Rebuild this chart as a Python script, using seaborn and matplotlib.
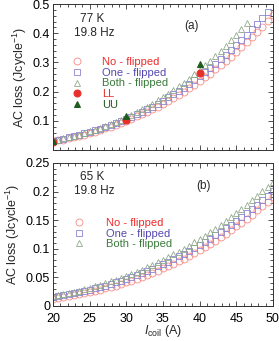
import numpy as np
import pandas as pd
import matplotlib
matplotlib.use('Agg')
import matplotlib.pyplot as plt
from matplotlib.ticker import MultipleLocator
import seaborn as sns

# coil current (A)
current = [20.0, 20.71, 21.43, 22.14, 22.86, 23.57, 24.29, 25.0, 25.71, 26.43,
           27.14, 27.86, 28.57, 29.29, 30.0, 30.71, 31.43, 32.14, 32.86, 33.57,
           34.29, 35.0, 35.71, 36.43, 37.14, 37.86, 38.57, 39.29, 40.0, 40.71,
           41.43, 42.14, 42.86, 43.57, 44.29, 45.0, 45.71, 46.43, 47.14, 47.86,
           48.57, 49.29, 50.0]

# 77 K, 19.8 Hz
no_flip_77 = [0.030, 0.033, 0.036, 0.040, 0.044, 0.048, 0.053, 0.058, 0.063, 0.068,
              0.074, 0.080, 0.086, 0.093, 0.100, 0.107, 0.115, 0.123, 0.131, 0.140,
              0.149, 0.158, 0.168, 0.178, 0.189, 0.200, 0.212, 0.224, 0.236, 0.249,
              0.262, 0.276, 0.290, 0.305, 0.320, 0.336, 0.352, 0.369, 0.386, 0.404,
              0.423, 0.442, 0.461]
one_flip_77 = [0.032, 0.035, 0.039, 0.043, 0.047, 0.052, 0.057, 0.062, 0.067, 0.073,
               0.079, 0.085, 0.092, 0.099, 0.107, 0.114, 0.123, 0.131, 0.140, 0.149,
               0.159, 0.169, 0.180, 0.191, 0.202, 0.214, 0.227, 0.239, 0.253, 0.267,
               0.281, 0.296, 0.311, 0.327, 0.343, 0.360, 0.377, 0.395, 0.414, 0.433,
               0.453, 0.473]
both_flip_77 = [0.032, 0.036, 0.040, 0.044, 0.048, 0.053, 0.058, 0.064, 0.070, 0.076,
                0.083, 0.089, 0.097, 0.104, 0.113, 0.121, 0.130, 0.139, 0.149, 0.159,
                0.170, 0.181, 0.193, 0.205, 0.218, 0.231, 0.245, 0.260, 0.274, 0.290,
                0.306, 0.323, 0.340, 0.358, 0.376, 0.395, 0.415, 0.436]
stack_current = [20, 30, 40]
ll_77 = [0.029, 0.103, 0.264]
uu_77 = [0.031, 0.116, 0.296]

# 65 K, 19.8 Hz
no_flip_65 = [0.0122, 0.0136, 0.0150, 0.0166, 0.0182, 0.0200, 0.0218, 0.0238, 0.0259, 0.0281,
              0.0305, 0.0330, 0.0356, 0.0383, 0.0412, 0.0442, 0.0473, 0.0506, 0.0541, 0.0577,
              0.0615, 0.0654, 0.0695, 0.0737, 0.0781, 0.0827, 0.0875, 0.0925, 0.0976, 0.1029,
              0.1084, 0.1141, 0.1200, 0.1261, 0.1325, 0.1390, 0.1457, 0.1526, 0.1598, 0.1672,
              0.1748, 0.1826, 0.1906]
one_flip_65 = [0.0150, 0.0166, 0.0182, 0.0200, 0.0219, 0.0239, 0.0260, 0.0282, 0.0305, 0.0330,
               0.0356, 0.0383, 0.0412, 0.0441, 0.0473, 0.0505, 0.0539, 0.0574, 0.0611, 0.0650,
               0.0690, 0.0731, 0.0774, 0.0819, 0.0865, 0.0913, 0.0962, 0.1013, 0.1067, 0.1121,
               0.1178, 0.1236, 0.1296, 0.1358, 0.1423, 0.1488, 0.1556, 0.1626, 0.1698, 0.1772,
               0.1848, 0.1926, 0.2006]
both_flip_65 = [0.0170, 0.0187, 0.0206, 0.0226, 0.0246, 0.0268, 0.0292, 0.0316, 0.0342, 0.0369,
                0.0397, 0.0427, 0.0458, 0.0491, 0.0525, 0.0560, 0.0597, 0.0636, 0.0676, 0.0717,
                0.0761, 0.0806, 0.0852, 0.0900, 0.0950, 0.1002, 0.1055, 0.1111, 0.1168, 0.1226,
                0.1287, 0.1350, 0.1414, 0.1481, 0.1549, 0.1620, 0.1693, 0.1767, 0.1844, 0.1923,
                0.2003, 0.2086, 0.2172]

sns.set_style('ticks')
plt.rcParams['font.family'] = ['Liberation Sans', 'DejaVu Sans']
plt.rcParams['mathtext.fontset'] = 'custom'
plt.rcParams['mathtext.rm'] = 'Liberation Sans'
plt.rcParams['mathtext.it'] = 'Liberation Sans:italic'

c_no, c_one, c_both = '#f58a84', '#8c85d2', '#92aa8c'
t_no, t_one, t_both = '#f02a2a', '#5448b0', '#3a7a3a'
c_ll, c_uu = '#e8302a', '#1f5c1f'

fig = plt.figure(figsize=(2.79, 3.41), dpi=100)
ax1 = fig.add_axes([0.190, 0.560, 0.788, 0.428])
ax2 = fig.add_axes([0.190, 0.103, 0.788, 0.419])


def open_series(ax, x, y, color, marker, label):
    sns.lineplot(x=x, y=y, ax=ax, color=color, marker=marker, linestyle='',
                 mfc='none', mec=color, ms=5, mew=0.6, label=label, legend=False)


open_series(ax1, current, no_flip_77, c_no, 'o', 'No - flipped')
open_series(ax1, current[:len(one_flip_77)], one_flip_77, c_one, 's', 'One - flipped')
open_series(ax1, current[:len(both_flip_77)], both_flip_77, c_both, '^', 'Both - flipped')
sns.lineplot(x=stack_current, y=ll_77, ax=ax1, color=c_ll, marker='o', linestyle='',
             mec=c_ll, ms=5, label='LL', legend=False)
sns.lineplot(x=stack_current, y=uu_77, ax=ax1, color=c_uu, marker='^', linestyle='',
             mec=c_uu, ms=5, label='UU', legend=False)

open_series(ax2, current, no_flip_65, c_no, 'o', 'No - flipped')
open_series(ax2, current, one_flip_65, c_one, 's', 'One - flipped')
open_series(ax2, current, both_flip_65, c_both, '^', 'Both - flipped')

for ax in (ax1, ax2):
    ax.set_xlim(20, 50)
    ax.xaxis.set_major_locator(MultipleLocator(5))
    ax.xaxis.set_minor_locator(MultipleLocator(1))
    ax.tick_params(which='both', direction='in', top=True, right=True,
                   labelsize=9, colors='#333333', labelcolor='black', width=0.6)
    ax.tick_params(which='major', length=3.5, pad=2)
    ax.tick_params(which='minor', length=2)
    ax.tick_params(axis='x', which='major', pad=5)
    for s in ax.spines.values():
        s.set_linewidth(0.7)
        s.set_color('#333333')
    ax.set_ylabel('AC loss (Jcycle$^{-1}$)', fontsize=9, labelpad=3)

ax1.set_ylim(0, 0.5)
ax1.set_yticks([0.1, 0.2, 0.3, 0.4, 0.5])
ax1.set_yticklabels(['0.1', '0.2', '0.3', '0.4', '0.5'])
ax1.yaxis.set_minor_locator(MultipleLocator(0.02))
ax1.tick_params(labelbottom=False)
ax1.set_xlabel('')

ax2.set_ylim(0, 0.25)
ax2.set_yticks([0, 0.05, 0.1, 0.15, 0.2, 0.25])
ax2.set_yticklabels(['0', '0.05', '0.1', '0.15', '0.2', '0.25'])
ax2.yaxis.set_minor_locator(MultipleLocator(0.01))
ax2.set_xticks([20, 25, 30, 35, 40, 45, 50])
ax2.set_xticklabels(['20', '25', '30', '35', '40', '45', '50'])
ax2.set_xlabel('$I_{\\rm coil}$ (A)', fontsize=9, labelpad=-1)

ax1.text(0.18, 0.90, '77 K', transform=ax1.transAxes, fontsize=8.5, ha='center', va='center')
ax1.text(0.186, 0.80, '19.8 Hz', transform=ax1.transAxes, fontsize=8.5, ha='center', va='center')
ax1.text(0.63, 0.85, '(a)', transform=ax1.transAxes, fontsize=8.5, ha='center', va='center')
ax2.text(0.18, 0.905, '65 K', transform=ax2.transAxes, fontsize=8.5, ha='center', va='center')
ax2.text(0.186, 0.807, '19.8 Hz', transform=ax2.transAxes, fontsize=8.5, ha='center', va='center')
ax2.text(0.686, 0.837, '(b)', transform=ax2.transAxes, fontsize=8.5, ha='center', va='center')

ax1.legend(loc='upper left', bbox_to_anchor=(0.085, 0.64), frameon=False, fontsize=8,
           handlelength=1, handletextpad=1.75, labelspacing=0.08, borderpad=0,
           borderaxespad=0, labelcolor=[t_no, t_one, t_both, c_ll, c_uu])
ax2.legend(loc='upper left', bbox_to_anchor=(0.095, 0.615), frameon=False, fontsize=8,
           handlelength=1, handletextpad=1.9, labelspacing=0.05, borderpad=0,
           borderaxespad=0, labelcolor=[t_no, t_one, t_both])

fig.savefig('out.png', dpi=100)
